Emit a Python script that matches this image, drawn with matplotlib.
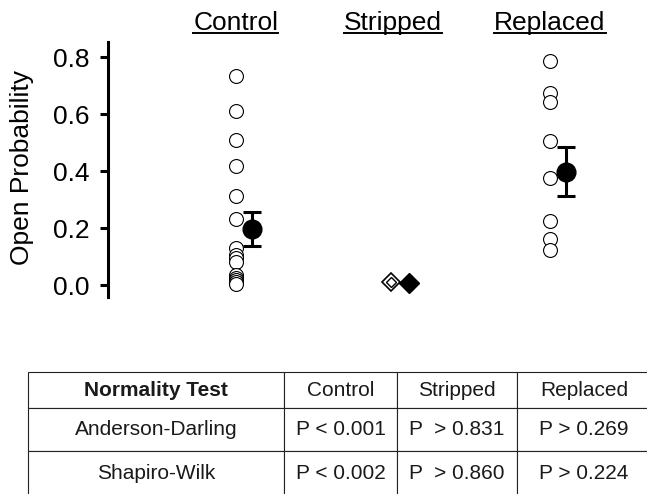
import numpy as np
import matplotlib
matplotlib.use("Agg")
import matplotlib.pyplot as plt
import matplotlib.transforms as mtransforms
from matplotlib.lines import Line2D

plt.rcParams['font.family'] = ['Liberation Sans', 'DejaVu Sans']

# data
groups = ["Control", "Stripped", "Replaced"]
control_pts = [0.733, 0.610, 0.509, 0.418, 0.312, 0.231, 0.130, 0.105, 0.095,
               0.080, 0.035, 0.025, 0.018, 0.010, 0.005]
stripped_pts = [0.010]
replaced_pts = [0.786, 0.673, 0.643, 0.505, 0.375, 0.225, 0.161, 0.123]
means = [0.196, 0.008, 0.397]
sems = [0.060, 0.0, 0.086]

yticks = [0.0, 0.2, 0.4, 0.6, 0.8]

table_header = ["Normality Test", "Control", "Stripped", "Replaced"]
table_rows = [["Anderson-Darling", "P < 0.001", "P  > 0.831", "P > 0.269"],
              ["Shapiro-Wilk", "P < 0.002", "P  > 0.860", "P > 0.224"]]

W, H = 647, 494
fig = plt.figure(figsize=(W / 100, H / 100), dpi=100)

# main scatter axes
ax = fig.add_axes([108 / W, 1 - 297 / H, (W - 108) / W, (297 - 42) / H])
ax.set_xlim(0.185, 3.618)
ax.set_ylim(-0.042, 0.853)

off = 0.105
ax.plot([1] * len(control_pts), control_pts, 'o', ms=10, mfc='white', mec='black', mew=0.8)
ax.plot([3] * len(replaced_pts), replaced_pts, 'o', ms=10, mfc='white', mec='black', mew=0.8)

# stripped: double outlined open diamond + filled diamond
ax.plot([2 - 0.012] * len(stripped_pts), stripped_pts, 'D', ms=9.5, mfc='white', mec='black', mew=1.2)
ax.plot([2 - 0.012] * len(stripped_pts), stripped_pts, 'D', ms=5.5, mfc='none', mec='black', mew=1.0)
ax.plot([2 + off], [means[1]], 'D', ms=10.5, mfc='black', mec='black', zorder=4)

# means with error bars (control, replaced)
for i in [0, 2]:
    ax.errorbar(i + 1 + off, means[i], yerr=sems[i], fmt='o', ms=13.5, color='black',
                elinewidth=2.2, capsize=6.5, capthick=2.2, zorder=5)

for s in ['top', 'right', 'bottom']:
    ax.spines[s].set_visible(False)
ax.spines['left'].set_linewidth(2.2)
ax.set_xticks([])
ax.set_yticks(yticks)
ax.set_yticklabels([f"{v:.1f}" for v in yticks])
ax.tick_params(axis='y', direction='out', length=6, width=2.2, pad=7, labelsize=19)

fig.text(22 / W, 1 - 167 / H, "Open Probability", rotation=90, ha='center', va='center',
         fontsize=19)

# underlined group titles
trans = mtransforms.blended_transform_factory(ax.transData, fig.transFigure)
titles = []
for i, g in enumerate(groups):
    t = ax.text(i + 1, 1 - 30 / H, g, transform=trans, ha='center', va='baseline', fontsize=19)
    titles.append(t)

fig.canvas.draw()
renderer = fig.canvas.get_renderer()
for t in titles:
    bb = t.get_window_extent(renderer).transformed(fig.transFigure.inverted())
    y = 1 - 33.5 / H
    fig.add_artist(Line2D([bb.x0, bb.x1], [y, y], transform=fig.transFigure,
                          color='black', lw=1.4))

# table
col_px = [256, 113, 120, 134]
row_px = [36, 43, 45]
tax = fig.add_axes([28 / W, 1 - 496 / H, sum(col_px) / W, sum(row_px) / H])
tax.axis('off')
tbl = tax.table(cellText=table_rows, colLabels=table_header,
                colWidths=[c / sum(col_px) for c in col_px],
                cellLoc='center', bbox=[0, 0, 1, 1])
tbl.auto_set_font_size(False)
tbl.set_fontsize(15)
for (r, c), cell in tbl.get_celld().items():
    cell.set_height(row_px[r] / sum(row_px))
    cell.set_linewidth(0.8)
    cell.set_edgecolor('#222222')
    cell.get_text().set_color('#1a1a1a')
    if r == 0 and c == 0:
        cell.get_text().set_fontweight('bold')

fig.savefig("out.png", dpi=100)
